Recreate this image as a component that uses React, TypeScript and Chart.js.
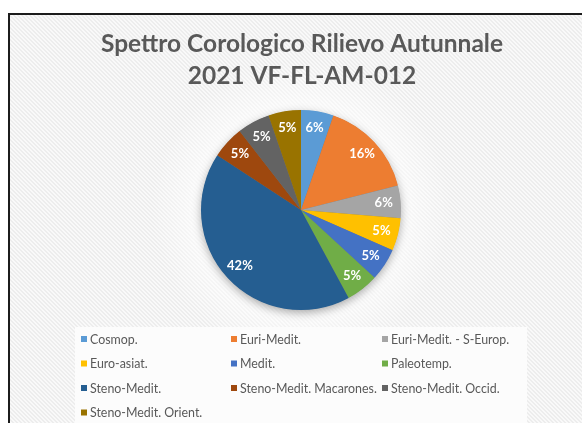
import React, { useEffect, useRef } from 'react';
import { Chart, registerables } from 'chart.js';

Chart.register(...registerables);

const titleLines = ['Spettro Corologico Rilievo Autunnale', '2021 VF-FL-AM-012'];
const categories = [
  'Cosmop.',
  'Euri-Medit.',
  'Euri-Medit. - S-Europ.',
  'Euro-asiat.',
  'Medit.',
  'Paleotemp.',
  'Steno-Medit.',
  'Steno-Medit. Macarones.',
  'Steno-Medit. Occid.',
  'Steno-Medit. Orient.',
];
const counts = [1, 3, 1, 1, 1, 1, 8, 1, 1, 1];
const colors = ['#5B9BD5', '#ED7D31', '#A5A5A5', '#FFC000', '#4472C4', '#70AD47', '#255E91', '#9E480E', '#636363', '#997300'];

const FONT = 'Lato, "Open Sans", sans-serif';
const TEXT_GRAY = '#595959';

// Excel-style percentages: largest remainder rounding so labels sum to 100
function roundedPercents(values: number[]): number[] {
  const total = values.reduce((a, b) => a + b, 0);
  const raw = values.map((v) => (v / total) * 100);
  const floors = raw.map((r) => Math.floor(r));
  let remaining = 100 - floors.reduce((a, b) => a + b, 0);
  const order = raw
    .map((r, i) => ({ i, rem: r - Math.floor(r) }))
    .sort((a, b) => b.rem - a.rem || a.i - b.i);
  const out = floors.slice();
  for (let k = 0; k < order.length && remaining > 0; k++, remaining--) out[order[k].i] += 1;
  return out;
}

function makeHatch(): CanvasPattern | string {
  const c = document.createElement('canvas');
  c.width = 4;
  c.height = 4;
  const x = c.getContext('2d');
  if (!x) return '#f3f3f3';
  x.fillStyle = '#ededed';
  x.fillRect(0, 0, 4, 4);
  x.fillStyle = '#f9f9f9';
  for (let i = 0; i < 4; i++) {
    x.fillRect(i, i, 1, 1);
    x.fillRect((i + 1) % 4, i, 1, 1);
  }
  const ctx = document.createElement('canvas').getContext('2d');
  const p = ctx ? ctx.createPattern(c, 'repeat') : null;
  return p || '#f3f3f3';
}

const backgroundPlugin = {
  id: 'excelBackground',
  beforeDraw(chart: any) {
    const ctx = chart.ctx as CanvasRenderingContext2D;
    const W = chart.width;
    const H = chart.height;
    ctx.save();
    ctx.fillStyle = '#ffffff';
    ctx.fillRect(0, 0, W, H);
    ctx.fillStyle = makeHatch() as any;
    ctx.fillRect(10, 15, W, H);
    // soft glow around the pie
    const arc = chart.getDatasetMeta(0).data[0];
    if (arc) {
      const cx = arc.x;
      const cy = arc.y;
      const r = arc.outerRadius;
      const g = ctx.createRadialGradient(cx, cy, r * 0.9, cx, cy, r * 1.5);
      g.addColorStop(0, 'rgba(255,255,255,0.75)');
      g.addColorStop(1, 'rgba(255,255,255,0)');
      ctx.fillStyle = g;
      ctx.fillRect(10, 15, W, H);
    }
    // legend panel
    ctx.fillStyle = '#fcfcfc';
    ctx.fillRect(75, 327, 452, H - 327);
    // chart border
    ctx.strokeStyle = '#1c1c1c';
    ctx.lineWidth = 2;
    ctx.strokeRect(9, 14, W + 20, H + 20);
    // title
    ctx.fillStyle = TEXT_GRAY;
    ctx.font = `bold 24.5px ${FONT}`;
    ctx.textAlign = 'center';
    ctx.textBaseline = 'alphabetic';
    ctx.fillText(titleLines[0], 302, 52);
    ctx.fillText(titleLines[1], 302, 84);
    ctx.restore();
  },
  beforeDatasetsDraw(chart: any) {
    const ctx = chart.ctx as CanvasRenderingContext2D;
    const arc = chart.getDatasetMeta(0).data[0];
    if (!arc) return;
    ctx.save();
    ctx.shadowColor = 'rgba(0,0,0,0.35)';
    ctx.shadowBlur = 10;
    ctx.shadowOffsetY = 3;
    ctx.fillStyle = '#777777';
    ctx.beginPath();
    ctx.arc(arc.x, arc.y, arc.outerRadius - 0.5, 0, Math.PI * 2);
    ctx.fill();
    ctx.restore();
  },
};

const labelsPlugin = {
  id: 'percentLabels',
  afterDatasetsDraw(chart: any) {
    const ctx = chart.ctx as CanvasRenderingContext2D;
    const ds = chart.data.datasets[0];
    const pcts = roundedPercents(ds.data as number[]);
    const meta = chart.getDatasetMeta(0);
    ctx.save();
    ctx.fillStyle = '#ffffff';
    ctx.font = `bold 13px ${FONT}`;
    ctx.textAlign = 'center';
    ctx.textBaseline = 'middle';
    meta.data.forEach((a: any, i: number) => {
      const mid = (a.startAngle + a.endAngle) / 2;
      const rr = a.outerRadius * 0.83;
      ctx.fillText(pcts[i] + '%', a.x + Math.cos(mid) * rr, a.y + Math.sin(mid) * rr);
    });
    ctx.restore();
  },
};

const legendPlugin = {
  id: 'gridLegend',
  afterDraw(chart: any) {
    const ctx = chart.ctx as CanvasRenderingContext2D;
    const labels = chart.data.labels as string[];
    const bg = chart.data.datasets[0].backgroundColor as string[];
    const colX = [81, 231, 382];
    const rowY = [339, 363.5, 388, 412.5];
    ctx.save();
    ctx.font = `12.4px ${FONT}`;
    ctx.textAlign = 'left';
    ctx.textBaseline = 'middle';
    labels.forEach((lab, i) => {
      const c = i % 3;
      const r = Math.floor(i / 3);
      const x = colX[c];
      const y = rowY[r];
      ctx.fillStyle = bg[i];
      ctx.fillRect(x, y - 3, 6, 6);
      ctx.fillStyle = TEXT_GRAY;
      ctx.fillText(lab, x + 9, y + 0.5);
    });
    ctx.restore();
  },
};

export default function App() {
  const ref = useRef<HTMLCanvasElement | null>(null);
  useEffect(() => {
    if (!ref.current) return;
    const chart = new Chart(ref.current, {
      type: 'pie',
      data: {
        labels: categories,
        datasets: [
          {
            data: counts,
            backgroundColor: colors,
            borderWidth: 0,
          },
        ],
      },
      options: {
        responsive: false,
        animation: false,
        devicePixelRatio: 1,
        layout: { padding: { left: 201, right: 181, top: 110, bottom: 113 } },
        plugins: {
          legend: { display: false },
          title: { display: false },
          tooltip: { enabled: false },
        },
      },
      plugins: [backgroundPlugin, labelsPlugin, legendPlugin],
    });
    return () => chart.destroy();
  }, []);
  return (
    <canvas
      ref={ref}
      width={582}
      height={423}
      style={{ position: 'fixed', left: 0, top: 0, width: 582, height: 423 }}
    />
  );
}
